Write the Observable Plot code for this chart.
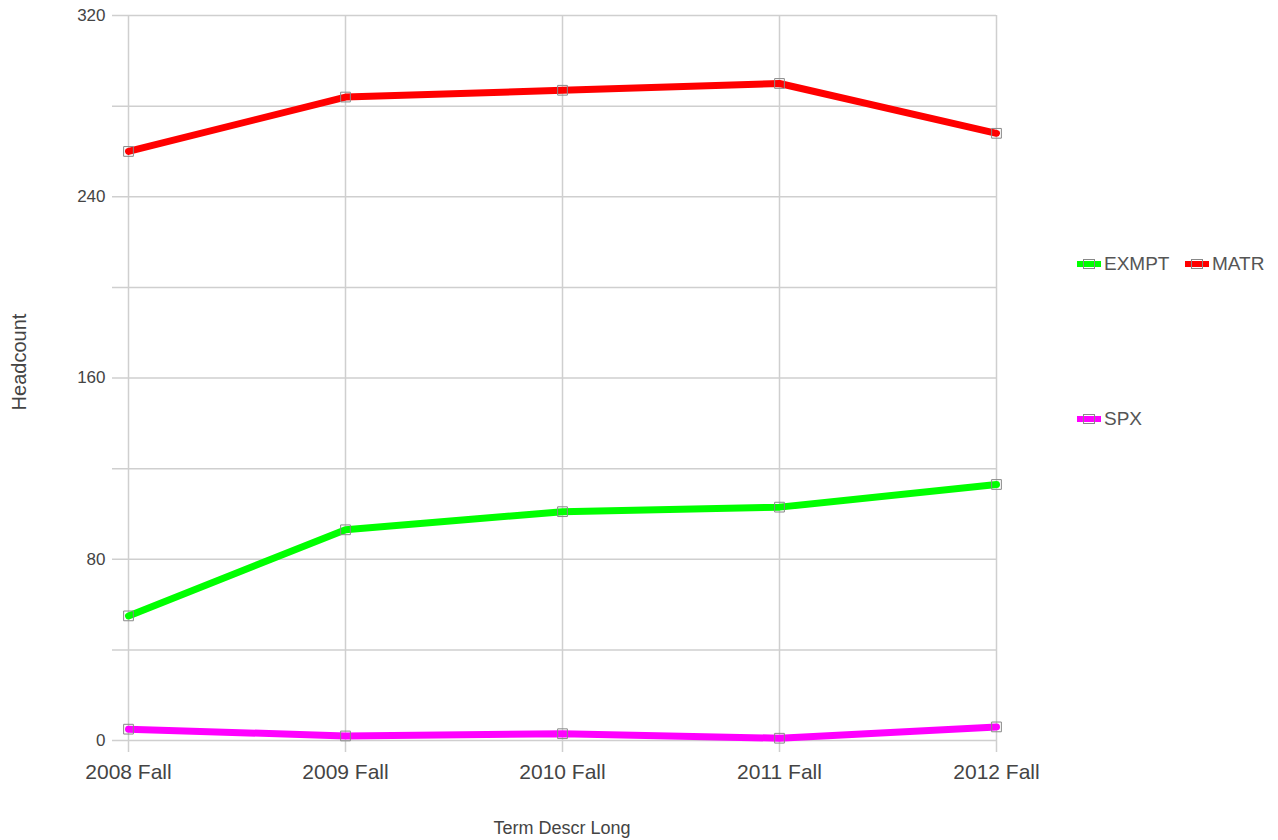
<!DOCTYPE html>
<html>
<head>
<meta charset="utf-8">
<script src="https://cdn.jsdelivr.net/npm/d3@7"></script>
<script src="https://cdn.jsdelivr.net/npm/@observablehq/plot@0.6"></script>
<style>
  body { margin: 0; background: #fff; font-family: "Liberation Sans", Arial, sans-serif; }
  #wrap { position: relative; width: 1278px; height: 840px; }
  .leg { position: absolute; display: flex; align-items: center; font-size: 19px; color: #555; }
  .leg svg { margin-right: 2px; }
</style>
</head>
<body>
<div id="wrap"></div>
<script>
const terms = ["2008 Fall", "2009 Fall", "2010 Fall", "2011 Fall", "2012 Fall"];
const seriesNames = ["EXMPT", "MATR", "SPX"];
const exmpt = [55, 93, 101, 103, 113];
const matr = [260, 284, 287, 290, 268];
const spx = [5, 2, 3, 1, 6];
const colors = ["#00ff00", "#ff0000", "#ff00ff"];
const yTicks = [0, 80, 160, 240, 320];
const yGrid = [0, 40, 80, 120, 160, 200, 240, 280, 320];

const seriesValues = [exmpt, matr, spx];
const data = [];
seriesNames.forEach((s, i) => terms.forEach((t, j) => data.push({series: s, term: t, value: seriesValues[i][j]})));

const chart = Plot.plot({
  width: 1278,
  height: 840,
  marginLeft: 127,
  marginRight: 282,
  marginTop: 15,
  marginBottom: 100,
  style: {fontFamily: "Liberation Sans, Arial, sans-serif", color: "#444", background: "#fff"},
  x: {type: "point", domain: terms, padding: 0, label: null},
  y: {domain: [0, 320], label: null},
  color: {domain: seriesNames, range: colors},
  marks: [
    Plot.ruleY(yGrid, {stroke: "#cfcfcf", strokeWidth: 1.5, insetLeft: -15}),
    Plot.ruleX(terms, {stroke: "#cfcfcf", strokeWidth: 1.5, insetBottom: -12}),
    Plot.axisY({ticks: yTicks, tickSize: 0, tickPadding: 22, fontSize: 17, label: null, stroke: "none"}),
    Plot.axisX({tickSize: 0, tickPadding: 24, fontSize: 21, label: null}),
    Plot.line(data, {x: "term", y: "value", z: "series", stroke: "series", strokeWidth: 7, strokeLinejoin: "round"}),
    Plot.dot(data, {x: "term", y: "value", symbol: "square", r: 5.5, stroke: "#888", strokeWidth: 1, fill: "none"}),
    Plot.text(["Term Descr Long"], {frameAnchor: "bottom", dy: 93, fontSize: 18, fill: "#444"}),
    Plot.text(["Headcount"], {frameAnchor: "left", textAnchor: "middle", dx: -108, dy: -16, rotate: -90, fontSize: 20, fill: "#444"})
  ]
});
const wrap = document.getElementById("wrap");
wrap.appendChild(chart);

function swatch(color) {
  return `<svg width="26" height="14"><line x1="1" y1="7" x2="25" y2="7" stroke="${color}" stroke-width="6"/><rect x="7.5" y="2.5" width="11" height="9" fill="none" stroke="#888" stroke-width="1"/></svg>`;
}
const legendPos = [[1076, 264], [1184, 264], [1076, 419]];
seriesNames.forEach((s, i) => {
  const d = document.createElement("div");
  d.className = "leg";
  d.style.left = legendPos[i][0] + "px";
  d.style.top = (legendPos[i][1] - 11) + "px";
  d.innerHTML = swatch(colors[i]) + `<span>${s}</span>`;
  wrap.appendChild(d);
});
</script>
</body>
</html>
